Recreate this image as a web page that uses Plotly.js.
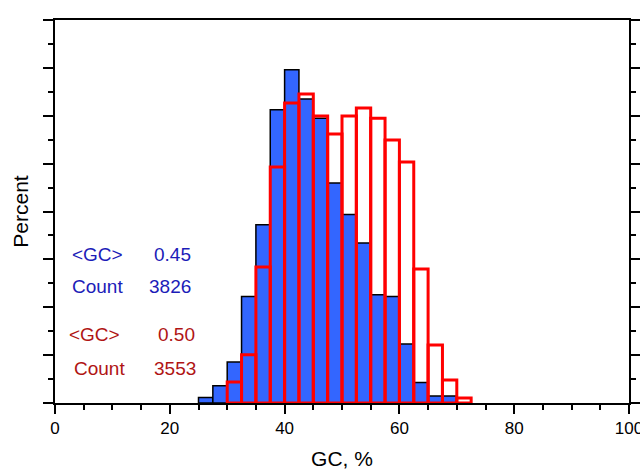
<!DOCTYPE html>
<html>
<head>
<meta charset="utf-8">
<script src="https://cdn.plot.ly/plotly-3.0.1.min.js"></script>
<style>html,body{margin:0;padding:0;background:#fff;}#chart{width:640px;height:471px;}</style>
</head>
<body>
<div id="chart"></div>
<script>
// Bin centres (GC %, bins of 2.5)
const blueBins = [26.25, 28.75, 31.25, 33.75, 36.25, 38.75, 41.25, 43.75, 46.25, 48.75, 51.25, 53.75, 56.25, 58.75, 61.25, 63.75, 66.25, 68.75];
const blueValues = [0.23, 0.72, 1.71, 4.45, 7.45, 12.25, 13.92, 12.7, 11.9, 9.19, 7.87, 6.68, 4.52, 4.45, 2.46, 0.86, 0.29, 0.29];
const redBins = [31.25, 33.75, 36.25, 38.75, 41.25, 43.75, 46.25, 48.75, 51.25, 53.75, 56.25, 58.75, 61.25, 63.75, 66.25, 68.75, 71.25];
const redValues = [0.88, 2.02, 5.68, 9.86, 12.53, 12.91, 11.99, 11.24, 11.99, 12.32, 11.9, 10.99, 10.07, 5.6, 2.42, 0.96, 0.21];
const blueStats = {gc: "0.45", count: "3826"};
const redStats = {gc: "0.50", count: "3553"};

const FONT = "Liberation Sans, Arial, sans-serif";
const blueTxt = "#1c1cb8";
const redTxt = "#b01414";

const traces = [
  {type: "bar", x: blueBins, y: blueValues, width: 2.5,
   marker: {color: "#3366ff", line: {color: "#000000", width: 1.5}}, hoverinfo: "none"},
  {type: "bar", x: redBins, y: redValues, width: 2.5,
   marker: {color: "rgba(0,0,0,0)", line: {color: "#ff0000", width: 3}}, hoverinfo: "none"}
];

function ann(text, x, y, anchor, color) {
  return {text: text, x: x, y: y, xref: "paper", yref: "paper", xanchor: anchor, yanchor: "middle",
          showarrow: false, font: {family: FONT, size: 19, color: color}};
}

const layout = {
  width: 640, height: 471,
  margin: {l: 55, r: 11, t: 20, b: 68},
  paper_bgcolor: "#fff", plot_bgcolor: "#fff",
  barmode: "overlay", showlegend: false,
  font: {family: FONT, color: "#000"},
  xaxis: {range: [0, 100], dtick: 20, tick0: 0, showgrid: false, zeroline: false,
          showline: true, linecolor: "#000", linewidth: 2, mirror: true,
          ticks: "outside", ticklen: 9, tickwidth: 2, tickcolor: "#000",
          ticklabeloverflow: "allow",
          minor: {dtick: 5, ticklen: 5, tickwidth: 2, tickcolor: "#000", ticks: "outside"},
          tickfont: {size: 17, family: FONT, color: "#000"},
          title: {text: "GC, %", font: {size: 21, family: FONT, color: "#000"}, standoff: 14}},
  yaxis: {range: [0, 16], dtick: 2, tick0: 0, showgrid: false, zeroline: false,
          showline: true, linecolor: "#000", linewidth: 2, mirror: "ticks",
          ticks: "outside", ticklen: 10, tickwidth: 2, tickcolor: "#000",
          minor: {dtick: 1, ticklen: 5, tickwidth: 2, tickcolor: "#000", ticks: "outside"},
          showticklabels: false,
          title: {text: "Percent", font: {size: 21, family: FONT, color: "#000"}, standoff: 9}},
  annotations: [
    ann("&lt;GC&gt;", 0.026, 0.389, "left", blueTxt),
    ann(blueStats.gc, 0.24, 0.389, "right", blueTxt),
    ann("Count", 0.026, 0.303, "left", blueTxt),
    ann(blueStats.count, 0.24, 0.303, "right", blueTxt),
    ann("&lt;GC&gt;", 0.021, 0.180, "left", redTxt),
    ann(redStats.gc, 0.248, 0.180, "right", redTxt),
    ann("Count", 0.030, 0.091, "left", redTxt),
    ann(redStats.count, 0.249, 0.091, "right", redTxt)
  ]
};

Plotly.newPlot("chart", traces, layout, {displayModeBar: false, staticPlot: true});
</script>
</body>
</html>
